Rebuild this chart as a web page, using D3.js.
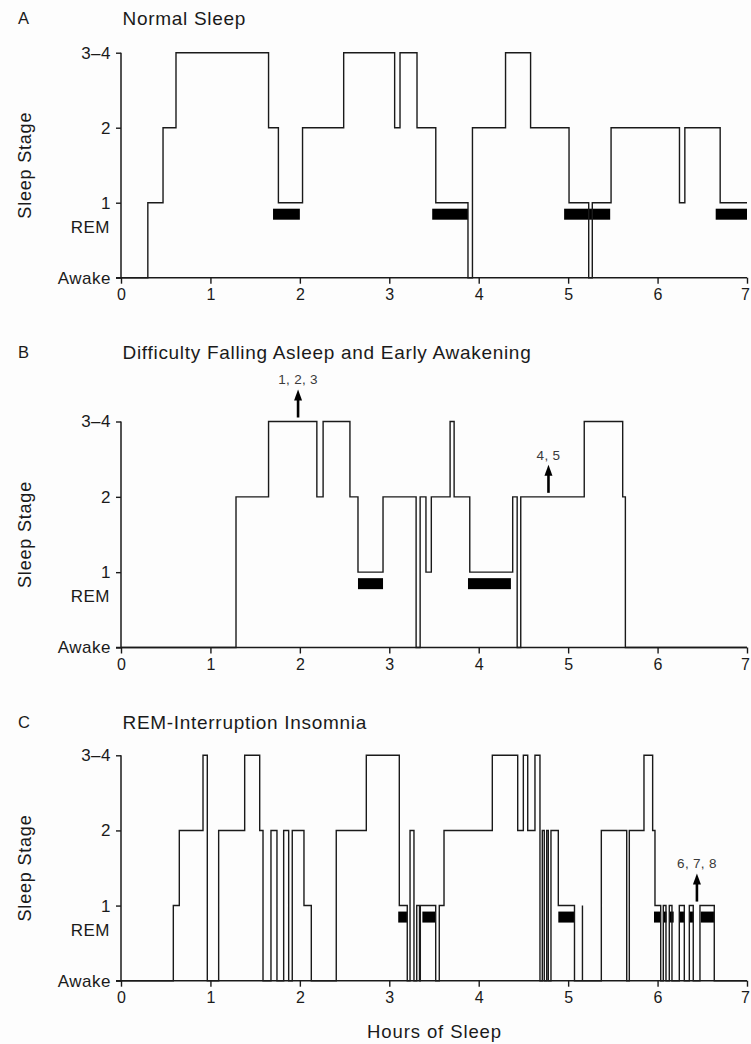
<!DOCTYPE html>
<html>
<head>
<meta charset="utf-8">
<script src="https://cdn.jsdelivr.net/npm/d3@7"></script>
<style>
  html, body { margin: 0; padding: 0; background: #fdfdfd; }
  svg { display: block; }
  text { font-family: "Liberation Sans", Arial, sans-serif; fill: #1a1a1a; }
</style>
</head>
<body>
<svg id="chart" width="751" height="1044"></svg>
<script>
// Hypnogram steps: [hour, stage], stage 0 = Awake, 1, 2, 3 = stages 3–4
const normalSleep = [
  [0, 0], [0.30, 1], [0.47, 2], [0.615, 3], [1.65, 2], [1.76, 1], [2.03, 2],
  [2.49, 3], [3.06, 2], [3.12, 3], [3.31, 2], [3.52, 1], [3.88, 0], [3.93, 2],
  [4.30, 3], [4.58, 2], [5.01, 1], [5.23, 0], [5.27, 1], [5.48, 2], [6.245, 1],
  [6.305, 2], [6.70, 1], [7, 1]
];
const normalRem = [[1.70, 2.00], [3.48, 3.88], [4.955, 5.47], [6.65, 7.0]];

const difficultSleep = [
  [0, 0], [1.286, 2], [1.65, 3], [2.19, 2], [2.26, 3], [2.56, 2], [2.65, 1],
  [2.93, 2], [3.30, 0], [3.345, 2], [3.41, 1], [3.47, 2], [3.68, 3], [3.725, 2],
  [3.90, 1], [4.38, 2], [4.43, 0], [4.47, 2], [5.18, 3], [5.61, 2], [5.64, 0],
  [7, 0]
];
const difficultRem = [[2.65, 2.93], [3.88, 4.36]];

const remInterruption = [
  [0, 0], [0.585, 1], [0.652, 2], [0.917, 3], [0.965, 0], [1.092, 2], [1.383, 3],
  [1.551, 2], [1.588, 0], [1.677, 2], [1.744, 0], [1.819, 2], [1.875, 0],
  [1.915, 2], [2.046, 1], [2.128, 0], [2.407, 2], [2.743, 3], [3.112, 1],
  [3.201, 0], [3.232, 2], [3.276, 0], [3.307, 1], [3.338, 0], [3.347, 1],
  [3.519, 0], [3.559, 1], [3.612, 2], [4.152, 3], [4.436, 2], [4.499, 3],
  [4.548, 2], [4.629, 3], [4.685, 0], [4.711, 2], [4.733, 0], [4.760, 2],
  [4.778, 0], [4.808, 2], [4.890, 1], [5.071, 0], [5.160, 1], [5.160, 0],
  [5.371, 2], [5.655, 0], [5.684, 2], [5.848, 3], [5.945, 2], [5.971, 1],
  [6.035, 0], [6.064, 1], [6.094, 0], [6.131, 1], [6.161, 0], [6.243, 1],
  [6.299, 0], [6.355, 1], [6.399, 0], [6.474, 1], [6.634, 0], [7, 0]
];
const interruptionRem = [
  [3.10, 3.20], [3.37, 3.52], [4.89, 5.07], [5.96, 6.035], [6.064, 6.10],
  [6.138, 6.18], [6.243, 6.305], [6.355, 6.40], [6.483, 6.634]
];

// Arrow annotations: [hour, stage the arrow rises from, label]
const difficultNotes = [[1.98, 3, "1, 2, 3"], [4.78, 2, "4, 5"]];
const interruptionNotes = [[6.44, 1, "6, 7, 8"]];

const hourTicks = [0, 1, 2, 3, 4, 5, 6, 7];
const stageTicks = [0, 1, 2, 3];
const stageLabels = ["Awake", "1", "2", "3–4"];

const panels = [
  { letter: "A", title: "Normal Sleep", steps: normalSleep, rem: normalRem, notes: [], titleY: 18, top: 52.7, bottom: 277.7 },
  { letter: "B", title: "Difficulty Falling Asleep and Early Awakening", steps: difficultSleep, rem: difficultRem, notes: difficultNotes, titleY: 352, top: 421.5, bottom: 647.5 },
  { letter: "C", title: "REM-Interruption Insomnia", steps: remInterruption, rem: interruptionRem, notes: interruptionNotes, titleY: 722, top: 755.3, bottom: 980.7 }
];

const svg = d3.select("#chart");
const ink = "#1a1a1a";
const font = "'Liberation Sans', Arial, sans-serif";
const x = d3.scaleLinear().domain([0, 7]).range([121, 747]);

panels.forEach(p => {
  const y = d3.scaleLinear().domain([0, 3]).range([p.bottom, p.top]);
  const g = svg.append("g");

  // Panel letter and title
  g.append("text").attr("x", 18).attr("y", p.titleY).attr("dy", "0.35em")
    .style("font-size", "16.5px").text(p.letter);
  g.append("text").attr("x", 122.5).attr("y", p.titleY).attr("dy", "0.35em")
    .style("font-size", "19px").style("letter-spacing", "0.7px").text(p.title);

  // Y axis
  const yAxis = d3.axisLeft(y).tickValues(stageTicks)
    .tickFormat(d => stageLabels[d]).tickSize(5).tickPadding(5);
  const ya = g.append("g").attr("transform", `translate(${x(0)},0)`).call(yAxis);
  ya.select(".domain").remove();
  ya.selectAll(".tick line").attr("stroke", ink).attr("stroke-width", 1.4);
  ya.selectAll(".tick text").style("font-size", "17px").style("letter-spacing", "0.5px")
    .attr("fill", ink).style("font-family", font);
  g.append("line").attr("x1", x(0)).attr("x2", x(0)).attr("y1", y(3)).attr("y2", y(0))
    .attr("stroke", ink).attr("stroke-width", 1.5);

  // REM label under stage 1
  g.append("text").attr("x", x(0) - 11).attr("y", y(1) + 24).attr("dy", "0.35em")
    .attr("text-anchor", "end").style("font-size", "17px").style("letter-spacing", "0.5px")
    .text("REM");

  // X axis
  const xAxis = d3.axisBottom(x).tickValues(hourTicks).tickFormat(d3.format("d"))
    .tickSize(6).tickPadding(5);
  const xa = g.append("g").attr("transform", `translate(0,${y(0)})`).call(xAxis);
  xa.select(".domain").attr("stroke", ink).attr("stroke-width", 1.5)
    .attr("d", `M${x(0) - 5},0H${x(7)}`);
  xa.selectAll(".tick line").attr("stroke", ink).attr("stroke-width", 1.4);
  xa.selectAll(".tick text").style("font-size", "16px").attr("fill", ink)
    .style("font-family", font)
    .attr("dx", d => d === 7 ? -2 : 0);

  // Y axis title
  g.append("text")
    .attr("transform", `translate(25,${(p.top + p.bottom) / 2}) rotate(-90)`)
    .attr("text-anchor", "middle").attr("dy", "0.35em")
    .style("font-size", "18px").style("letter-spacing", "0.8px").text("Sleep Stage");

  // REM periods
  g.selectAll("rect.rem").data(p.rem).join("rect").attr("class", "rem")
    .attr("x", d => x(d[0])).attr("width", d => x(d[1]) - x(d[0]))
    .attr("y", y(1) + 6).attr("height", 11).attr("fill", "#000");

  // Hypnogram trace
  const line = d3.line().x(d => x(d[0])).y(d => y(d[1])).curve(d3.curveStepAfter);
  g.append("path").datum(p.steps).attr("d", line)
    .attr("fill", "none").attr("stroke", ink).attr("stroke-width", 1.4);

  // Arrow annotations
  p.notes.forEach(([h, s, label]) => {
    const cx = x(h), tail = y(s) - 4, tip = tail - 28;
    g.append("line").attr("x1", cx).attr("x2", cx).attr("y1", tail).attr("y2", tip + 8)
      .attr("stroke", "#000").attr("stroke-width", 2.6);
    g.append("path").attr("d", `M${cx},${tip}L${cx - 4},${tip + 11}L${cx + 4},${tip + 11}Z`)
      .attr("fill", "#000");
    g.append("text").attr("x", cx).attr("y", tip - 10).attr("dy", "0.35em")
      .attr("text-anchor", "middle").style("font-size", "13.5px").style("fill", "#3a3a3a")
      .style("letter-spacing", "0.3px").text(label);
  });
});

// X axis title
svg.append("text").attr("x", 434.5).attr("y", 1032).attr("dy", "0.35em")
  .attr("text-anchor", "middle").style("font-size", "18.5px").style("letter-spacing", "0.9px")
  .text("Hours of Sleep");
</script>
</body>
</html>
